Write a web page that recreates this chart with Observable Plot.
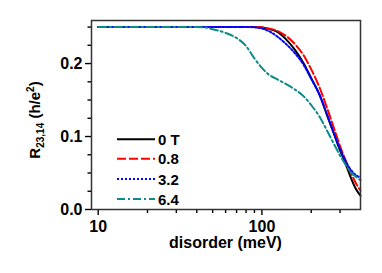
<!DOCTYPE html>
<html><head><meta charset="utf-8">
<script src="https://cdn.jsdelivr.net/npm/d3@7"></script>
<script src="https://cdn.jsdelivr.net/npm/@observablehq/plot@0.6"></script>
<style>body{margin:0;background:#fff} svg{display:block}</style>
</head><body><div id="chart"></div>
<script>
const disorder = [10, 20, 40, 45, 50, 60, 70, 80, 90, 100, 110, 125, 140, 160, 180, 200, 225, 250, 275, 300, 325, 350, 375, 400];
const field0T  = [0.25, 0.25, 0.25, 0.25, 0.25, 0.25, 0.25, 0.25, 0.25, 0.2495, 0.2475, 0.243, 0.2335, 0.218, 0.200, 0.180, 0.157, 0.129, 0.104, 0.081, 0.062, 0.043, 0.028, 0.019];
const field08  = [0.25, 0.25, 0.25, 0.25, 0.25, 0.25, 0.25, 0.25, 0.25, 0.2497, 0.248, 0.2445, 0.238, 0.226, 0.211, 0.192, 0.167, 0.139, 0.112, 0.087, 0.067, 0.050, 0.036, 0.026];
const field32  = [0.25, 0.25, 0.25, 0.25, 0.25, 0.25, 0.25, 0.25, 0.2497, 0.248, 0.2445, 0.2365, 0.227, 0.2135, 0.198, 0.179, 0.157, 0.130, 0.105, 0.083, 0.066, 0.054, 0.047, 0.044];
const field64  = [0.25, 0.25, 0.25, 0.2495, 0.247, 0.242, 0.235, 0.224, 0.207, 0.194, 0.185, 0.178, 0.172, 0.164, 0.155, 0.143, 0.127, 0.108, 0.090, 0.074, 0.061, 0.051, 0.045, 0.040];
const seriesNames = ["0 T", "0.8", "3.2", "6.4"];
const seriesColors = ["#000000", "#ff0000", "#0000ff", "#0a8a8a"];
const seriesDash = ["none", "9,3", "2,2", "8,3,2,3"];
const xMajor = [10, 100];
const xMinor = [20, 30, 40, 50, 60, 70, 80, 90, 200, 300];
const yMajor = [0, 0.1, 0.2];
const yMinor = [0.025, 0.05, 0.075, 0.125, 0.15, 0.175, 0.225, 0.25];

const allSeries = [field0T, field08, field32, field64];
const rows = [];
allSeries.forEach((vals, s) => vals.forEach((v, i) => rows.push({x: disorder[i], y: v, s})));

const font = "'Liberation Sans', Arial, sans-serif";
const lineMarks = allSeries.map((_, s) => Plot.line(rows.filter(r => r.s === s), {
  x: "x", y: "y", stroke: seriesColors[s], strokeWidth: 2,
  strokeDasharray: seriesDash[s], curve: "monotone-x"
}));

const chart = Plot.plot({
  width: 382, height: 273,
  marginLeft: 91, marginRight: 22, marginTop: 20, marginBottom: 64,
  style: {fontFamily: font, fontSize: "16px", fontWeight: "bold", color: "#000", background: "#fff"},
  x: {type: "log", domain: [9.1, 400]},
  y: {domain: [0, 0.259]},
  marks: [
    ...lineMarks,
    Plot.axisX({ticks: xMinor, tickSize: 4, tickFormat: () => "", strokeWidth: 1.4, label: null}),
    Plot.axisX({ticks: xMajor, tickSize: 6, tickPadding: 5, tickFormat: d => String(d), strokeWidth: 1.4, label: null, fontSize: 16, fontWeight: "bold"}),
    Plot.axisY({ticks: yMinor, tickSize: 3.5, tickFormat: () => "", strokeWidth: 1.4, label: null}),
    Plot.axisY({ticks: yMajor, tickSize: 6, tickPadding: 3, tickFormat: d3.format(".1f"), strokeWidth: 1.4, label: null, fontSize: 16, fontWeight: "bold"}),
    Plot.frame({stroke: "#333", strokeWidth: 1.5})
  ]
});

const svg = d3.select(chart);
// x label
svg.append("text").attr("x", 225.5).attr("y", 248).attr("text-anchor", "middle")
  .style("font-family", font).style("font-size", "16px").style("font-weight", "bold")
  .text("disorder (meV)");
// y label with subscript/superscript
const yl = svg.append("text").attr("transform", "translate(39.5,120) rotate(-90)")
  .attr("text-anchor", "middle")
  .style("font-family", font).style("font-size", "15px").style("font-weight", "bold");
yl.append("tspan").text("R");
yl.append("tspan").attr("dy", 4).style("font-size", "10px").text("23,14");
yl.append("tspan").attr("dy", -4).text(" (h/e");
yl.append("tspan").attr("dy", -6).style("font-size", "10px").text("2");
yl.append("tspan").attr("dy", 6).text(")");
// legend
const legY = [139.3, 158.8, 179, 199];
seriesNames.forEach((name, i) => {
  svg.append("line").attr("x1", 117).attr("x2", 155).attr("y1", legY[i]).attr("y2", legY[i])
    .attr("stroke", seriesColors[i]).attr("stroke-width", 2)
    .attr("stroke-dasharray", seriesDash[i] === "none" ? null : seriesDash[i]);
  svg.append("text").attr("x", 158).attr("y", legY[i] + 5.5)
    .attr("text-anchor", "start")
    .style("text-anchor", "start")
    .style("font-family", font).style("font-size", "15px").style("font-weight", "bold")
    .text(name);
});
document.getElementById("chart").appendChild(chart);
</script>
</body></html>
